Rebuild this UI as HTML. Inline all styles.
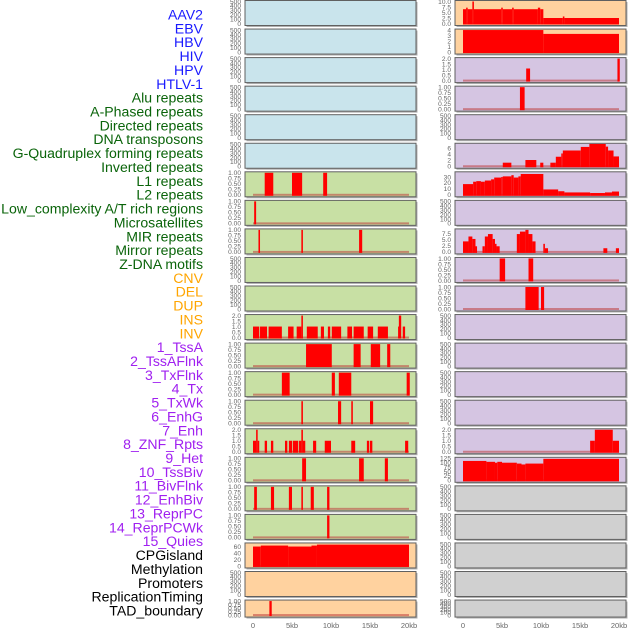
<!DOCTYPE html>
<html><head><meta charset="utf-8">
<style>
html,body{margin:0;padding:0;background:#fff;}
svg{display:block;font-family:"Liberation Sans",sans-serif;}
</style></head>
<body>
<svg id="chart" width="630" height="630" viewBox="0 0 630 630"></svg>
<script>
// ---- data ----
const trackLabels = ["AAV2","EBV","HBV","HIV","HPV","HTLV-1","Alu repeats","A-Phased repeats","Directed repeats","DNA transposons","G-Quadruplex forming repeats","Inverted repeats","L1 repeats","L2 repeats","Low_complexity A/T rich regions","Microsatellites","MIR repeats","Mirror repeats","Z-DNA motifs","CNV","DEL","DUP","INS","INV","1_TssA","2_TssAFlnk","3_TxFlnk","4_Tx","5_TxWk","6_EnhG","7_Enh","8_ZNF_Rpts","9_Het","10_TssBiv","11_BivFlnk","12_EnhBiv","13_ReprPC","14_ReprPCWk","15_Quies","CPGisland","Methylation","Promoters","ReplicationTiming","TAD_boundary"];
const labelGroups = [6,13,5,15,5];
const groupColors = ["#1a1aff","#0a640a","#ffa500","#a020f0","#000000"];
const xTickValues = [0,5,10,15,20];
const xTickLabels = ["0","5kb","10kb","15kb","20kb"];
const leftYMax = [500,500,500,500,500,500,1,1,1,500,500,2,1,1,1,2,1,1,1,68,500,1];
const rightYMax = [10,4,2,1,500,7.4,37,500,9,1,1,500,500,500,500,2,125,500,500,500,500,500];
const leftBg = ["#c9e4ec","#c9e4ec","#c9e4ec","#c9e4ec","#c9e4ec","#c9e4ec","#c8e0a4","#c8e0a4","#c8e0a4","#c8e0a4","#c8e0a4","#c8e0a4","#c8e0a4","#c8e0a4","#c8e0a4","#c8e0a4","#c8e0a4","#c8e0a4","#c8e0a4","#ffd29f","#ffd29f","#ffd29f"];
const rightBg = ["#ffd29f","#ffd29f","#d5c5e2","#d5c5e2","#d5c5e2","#d5c5e2","#d5c5e2","#d5c5e2","#d5c5e2","#d5c5e2","#d5c5e2","#d5c5e2","#d5c5e2","#d5c5e2","#d5c5e2","#d5c5e2","#d5c5e2","#d0d0d0","#d0d0d0","#d0d0d0","#d0d0d0","#d0d0d0"];
// segments: [startKb, endKb, value]
const leftSegs = [[],[],[],[],[],[],
 [[1.5,2.6,1],[5.0,6.3,1],[9.0,9.5,1]],
 [[0.15,0.4,1]],
 [[0.7,0.9,1],[6.2,6.4,1],[13.6,14.0,1]],
 [],[],
 [[0,0.8,1],[0.9,1.8,1],[2.0,3.7,1],[4.5,5.2,1],[5.6,6.2,1],[6.2,6.4,2],[6.9,8.3,1],[8.7,9.1,1],[9.6,9.9,1],[10.1,11.3,1],[12.1,12.7,1],[12.9,14.2,1],[14.7,15.4,1],[16.0,17.3,1],[18.6,18.7,1],[18.7,19.0,2],[19.2,19.5,1]],
 [[6.8,10.1,1],[12.9,13.8,1],[15.1,16.3,1],[17.2,17.6,1]],
 [[3.7,4.7,1],[10.1,10.5,1],[11.0,12.6,1],[19.7,20.1,1]],
 [[6.2,6.4,1],[10.9,11.3,1],[12.6,12.8,1],[15.0,15.4,1]],
 [[0,0.4,1],[0.4,0.6,2],[0.6,0.8,1],[1.5,1.8,1],[2.3,2.6,1],[4.1,4.4,1],[4.6,5.0,1],[5.1,5.8,1],[5.9,6.2,1],[6.2,6.4,2],[6.4,6.7,1],[7.7,8.1,1],[9.2,10.0,1],[12.6,13.1,1],[14.6,14.9,1],[15.0,15.3,1],[19.5,19.9,1]],
 [[6.3,6.8,1],[13.6,14.2,1],[16.9,17.3,1]],
 [[0.15,0.5,1],[2.3,2.7,1],[4.6,5.0,1],[6.2,6.4,1],[7.4,7.8,1],[9.5,9.8,1]],
 [[9.5,9.8,1]],
 [[0,1.0,60],[1.0,4.5,63],[4.5,7.5,60],[7.5,8.2,63],[8.2,20,66]],
 [],
 [[2.1,2.4,1]]
];
const rightSegs = [
 [[0,0.4,6.5],[0.4,0.6,7.2],[0.6,1.2,6.5],[1.2,1.4,10],[1.4,4.9,6.5],[4.9,5.1,7.2],[5.1,6.3,6.5],[6.3,6.5,7.2],[6.5,9.6,6.5],[9.6,9.9,7.2],[9.9,10.3,6.5],[10.3,12.8,2.5],[12.8,13.0,3.2],[13.0,20,2.5]],
 [[0,10.3,4],[10.3,20,3.3]],
 [[8.1,8.6,1.1],[19.8,20.1,2]],
 [[7.3,7.9,1]],
 [],
 [[5.1,6.2,1.2],[8.0,9.4,2.1],[9.9,10.3,1.2],[11.2,11.9,1.2],[11.9,12.6,3.2],[12.6,12.8,4.3],[12.8,15.1,5.3],[15.1,16.2,6.5],[16.2,18.3,7.5],[18.3,18.6,6.6],[18.6,19.3,5.3],[19.3,20,3.3]],
 [[0,1.3,18],[1.3,1.7,22],[1.7,2.3,23],[2.3,2.8,22],[2.8,3.6,24],[3.6,4.0,26],[4.0,4.9,29],[4.9,5.1,30],[5.1,6.2,31],[6.2,6.5,33],[6.5,7.1,29],[7.1,7.4,31],[7.4,10.3,35],[10.3,12.2,9],[12.2,13.0,6],[13.0,16.3,4],[16.3,18.2,3],[18.2,19.1,4],[19.1,20,5.5]],
 [],
 [[0,0.7,4.3],[0.7,1.2,6.3],[1.2,1.6,5.3],[1.6,1.8,2.3],[2.5,2.8,2.3],[2.8,3.2,6.3],[3.2,3.8,7.3],[3.8,4.1,5.3],[4.1,4.3,3.3],[4.3,4.7,2.3],[6.9,7.3,7.3],[7.3,8.0,8.3],[8.0,8.4,9],[8.4,8.9,7.3],[8.9,9.3,4.3],[10.3,10.5,3.3],[10.5,10.9,1.5],[18.0,18.5,1.5],[19.6,20,1.5]],
 [[4.7,5.4,1],[8.4,9.0,1]],
 [[8.0,9.7,1],[10.0,10.4,1]],
 [],[],[],[],
 [[16.3,16.9,1],[16.9,19.2,2],[19.2,20,1]],
 [[0,3.0,110],[3.0,4.1,105],[4.1,4.4,100],[4.4,5.0,105],[5.0,6.9,100],[6.9,7.5,95],[7.5,8.0,90],[8.0,10.3,95],[10.3,20,122]],
 [],[],[],[],[]
];
// ---- rendering ----
const NS="http://www.w3.org/2000/svg";
const svg=document.getElementById('chart');
function mk(tag,attrs,parent){const e=document.createElementNS(NS,tag);for(const k in attrs)e.setAttribute(k,attrs[k]);(parent||svg).appendChild(e);return e;}
function yTicks(ymax){
  if(ymax===500) return {v:[0,100,200,300,400,500],l:["0","100","200","300","400","500"]};
  if(ymax===1) return {v:[0,0.25,0.5,0.75,1],l:["0.00","0.25","0.50","0.75","1.00"]};
  if(ymax===2) return {v:[0,0.5,1,1.5,2],l:["0.0","0.5","1.0","1.5","2.0"]};
  if(ymax===10) return {v:[0,2.5,5,7.5,10],l:["0.0","2.5","5.0","7.5","10.0"]};
  if(ymax===4) return {v:[0,1,2,3,4],l:["0","1","2","3","4"]};
  if(ymax===9) return {v:[0,2.5,5,7.5],l:["0.0","2.5","5.0","7.5"]};
  if(ymax===125) return {v:[0,25,50,75,100,125],l:["0","25","50","75","100","125"]};
  if(ymax===68) return {v:[0,20,40,60],l:["0","20","40","60"]};
  if(ymax===37) return {v:[0,10,20,30],l:["0","10","20","30"]};
  return {v:[0,2,4,6],l:["0","2","4","6"]};
}
// labels
let li=0;
const labelG=mk('g',{});


labelGroups.forEach((n,g)=>{for(let k=0;k<n;k++){
  const t=mk('text',{x:203,y:19.5+li*13.86,'text-anchor':'end','font-size':'14.1',fill:groupColors[g]},labelG);
  t.textContent=trackLabels[li];
  
  
  li++;}});
function drawPanel(colX,i,ymax,bg,segs,side){
  const top=0.5+i*28.55, h=(i===21?17:25);
  const g=mk('g',{});
  
  
  mk('rect',{x:colX+1.5,y:top+1.5,width:171,height:h,fill:'#b0b0b0'},g);
  mk('rect',{x:colX,y:top,width:171,height:h,fill:bg,stroke:'#606060','stroke-width':1},g);
  const x0=colX+8, kx=7.8;
  const y0=top+h-2, y1=top+1;
  const ys=v=>y0-(v/ymax)*(y0-y1);
  const xs=kb=>x0+kb*kx;
  const tk=yTicks(ymax);
  tk.v.forEach((v,j)=>{const t=mk('text',{x:colX-4,y:ys(v)+2.3,'text-anchor':'end','font-size':'6.6',fill:'#666'},g);t.textContent=tk.l[j];
    
    });
  if(ymax!==500){
    const bl=mk('rect',{x:xs(0),y:y0-1,width:xs(20)-xs(0),height:2,fill:'rgba(190,60,60,0.55)'},g);
    
    
  }
  segs.forEach(s=>{const r=mk('rect',{x:xs(s[0]),y:ys(s[2]),width:Math.max(xs(s[1])-xs(s[0]),1.5),height:y0-ys(s[2])+1,fill:'#ff0000'},g);
    
    });
}
for(let i=0;i<22;i++){
  drawPanel(245,i,leftYMax[i],leftBg[i],leftSegs[i],'left');
  drawPanel(455,i,rightYMax[i],rightBg[i],rightSegs[i],'right');
}
[245,455].forEach((cx,c)=>{xTickValues.forEach((v,j)=>{
  const t=mk('text',{x:cx+8+v*7.8,y:628,'text-anchor':'middle','font-size':'7.5',fill:'#666'});
  t.textContent=xTickLabels[j];
  
  });});
</script>
</body></html>
